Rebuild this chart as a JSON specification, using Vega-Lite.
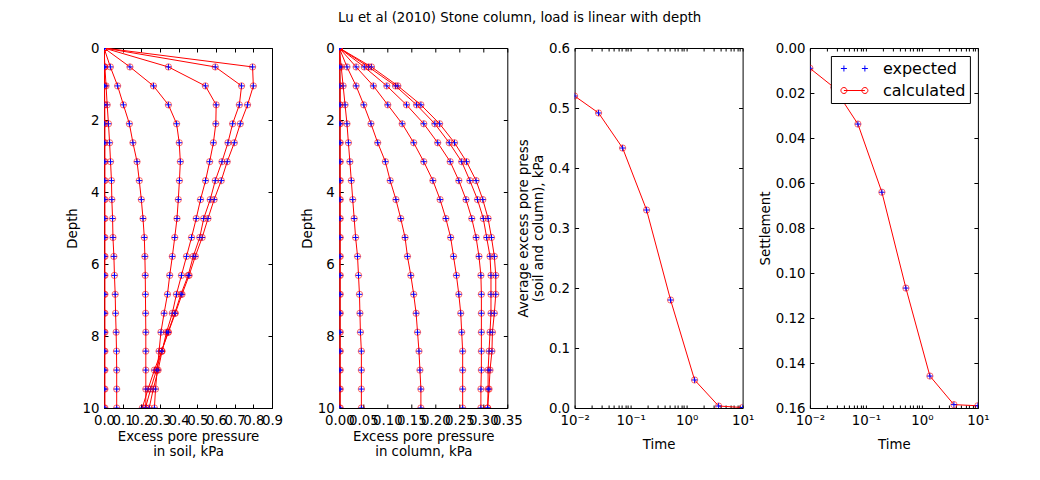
{
  "$schema": "https://vega.github.io/schema/vega-lite/v6.json",
  "autosize": {"type": "none"},
  "padding": {"left": 104, "top": 48, "right": 936, "bottom": 432},
  "background": "white",
  "title": {"text": "Lu et al (2010) Stone column, load is linear with depth", "anchor": "start", "frame": "group", "dx": 234, "offset": 16, "fontSize": 13.33, "fontWeight": "normal", "font": "DejaVu Sans", "color": "black"},
  "datasets": {
    "prof": [
      {"t":0.01,"d":0,"s":0,"c":0},{"t":0.01,"d":0.526,"s":0.796,"c":0.067},{"t":0.01,"d":1.053,"s":0.8,"c":0.122},{"t":0.01,"d":1.579,"s":0.769,"c":0.17},{"t":0.01,"d":2.105,"s":0.73,"c":0.209},{"t":0.01,"d":2.632,"s":0.698,"c":0.24},{"t":0.01,"d":3.158,"s":0.66,"c":0.265},{"t":0.01,"d":3.684,"s":0.628,"c":0.285},{"t":0.01,"d":4.211,"s":0.59,"c":0.299},{"t":0.01,"d":4.737,"s":0.557,"c":0.31},{"t":0.01,"d":5.263,"s":0.526,"c":0.317},{"t":0.01,"d":5.789,"s":0.489,"c":0.323},{"t":0.01,"d":6.316,"s":0.456,"c":0.326},{"t":0.01,"d":6.842,"s":0.418,"c":0.326},{"t":0.01,"d":7.368,"s":0.382,"c":0.323},{"t":0.01,"d":7.895,"s":0.345,"c":0.319},{"t":0.01,"d":8.421,"s":0.308,"c":0.318},{"t":0.01,"d":8.947,"s":0.27,"c":0.314},{"t":0.01,"d":9.474,"s":0.236,"c":0.312},{"t":0.01,"d":10,"s":0.205,"c":0.309},
      {"t":0.0268,"d":0,"s":0,"c":0},{"t":0.0268,"d":0.526,"s":0.596,"c":0.061},{"t":0.0268,"d":1.053,"s":0.737,"c":0.117},{"t":0.0268,"d":1.579,"s":0.725,"c":0.161},{"t":0.0268,"d":2.105,"s":0.689,"c":0.199},{"t":0.0268,"d":2.632,"s":0.664,"c":0.229},{"t":0.0268,"d":3.158,"s":0.632,"c":0.255},{"t":0.0268,"d":3.684,"s":0.596,"c":0.272},{"t":0.0268,"d":4.211,"s":0.569,"c":0.288},{"t":0.0268,"d":4.737,"s":0.534,"c":0.3},{"t":0.0268,"d":5.263,"s":0.513,"c":0.307},{"t":0.0268,"d":5.789,"s":0.478,"c":0.314},{"t":0.0268,"d":6.316,"s":0.451,"c":0.316},{"t":0.0268,"d":6.842,"s":0.412,"c":0.316},{"t":0.0268,"d":7.368,"s":0.379,"c":0.316},{"t":0.0268,"d":7.895,"s":0.343,"c":0.314},{"t":0.0268,"d":8.421,"s":0.309,"c":0.312},{"t":0.0268,"d":8.947,"s":0.281,"c":0.31},{"t":0.0268,"d":9.474,"s":0.25,"c":0.31},{"t":0.0268,"d":10,"s":0.222,"c":0.309},
      {"t":0.072,"d":0,"s":0,"c":0},{"t":0.072,"d":0.526,"s":0.345,"c":0.052},{"t":0.072,"d":1.053,"s":0.543,"c":0.099},{"t":0.072,"d":1.579,"s":0.601,"c":0.14},{"t":0.072,"d":2.105,"s":0.599,"c":0.176},{"t":0.072,"d":2.632,"s":0.586,"c":0.205},{"t":0.072,"d":3.158,"s":0.566,"c":0.231},{"t":0.072,"d":3.684,"s":0.544,"c":0.249},{"t":0.072,"d":4.211,"s":0.517,"c":0.264},{"t":0.072,"d":4.737,"s":0.494,"c":0.276},{"t":0.072,"d":5.263,"s":0.469,"c":0.285},{"t":0.072,"d":5.789,"s":0.442,"c":0.291},{"t":0.072,"d":6.316,"s":0.415,"c":0.295},{"t":0.072,"d":6.842,"s":0.388,"c":0.296},{"t":0.072,"d":7.368,"s":0.366,"c":0.296},{"t":0.072,"d":7.895,"s":0.335,"c":0.296},{"t":0.072,"d":8.421,"s":0.311,"c":0.296},{"t":0.072,"d":8.947,"s":0.29,"c":0.296},{"t":0.072,"d":9.474,"s":0.264,"c":0.295},{"t":0.072,"d":10,"s":0.242,"c":0.295},
      {"t":0.193,"d":0,"s":0,"c":0},{"t":0.193,"d":0.526,"s":0.139,"c":0.035},{"t":0.193,"d":1.053,"s":0.265,"c":0.071},{"t":0.193,"d":1.579,"s":0.345,"c":0.101},{"t":0.193,"d":2.105,"s":0.389,"c":0.131},{"t":0.193,"d":2.632,"s":0.403,"c":0.155},{"t":0.193,"d":3.158,"s":0.409,"c":0.176},{"t":0.193,"d":3.684,"s":0.404,"c":0.195},{"t":0.193,"d":4.211,"s":0.398,"c":0.21},{"t":0.193,"d":4.737,"s":0.391,"c":0.222},{"t":0.193,"d":5.263,"s":0.379,"c":0.232},{"t":0.193,"d":5.789,"s":0.366,"c":0.238},{"t":0.193,"d":6.316,"s":0.352,"c":0.244},{"t":0.193,"d":6.842,"s":0.34,"c":0.249},{"t":0.193,"d":7.368,"s":0.322,"c":0.253},{"t":0.193,"d":7.895,"s":0.305,"c":0.255},{"t":0.193,"d":8.421,"s":0.295,"c":0.257},{"t":0.193,"d":8.947,"s":0.285,"c":0.257},{"t":0.193,"d":9.474,"s":0.276,"c":0.257},{"t":0.193,"d":10,"s":0.27,"c":0.257},
      {"t":0.518,"d":0,"s":0,"c":0},{"t":0.518,"d":0.526,"s":0.034,"c":0.016},{"t":0.518,"d":1.053,"s":0.073,"c":0.035},{"t":0.518,"d":1.579,"s":0.104,"c":0.051},{"t":0.518,"d":2.105,"s":0.136,"c":0.066},{"t":0.518,"d":2.632,"s":0.155,"c":0.08},{"t":0.518,"d":3.158,"s":0.177,"c":0.096},{"t":0.518,"d":3.684,"s":0.189,"c":0.106},{"t":0.518,"d":4.211,"s":0.2,"c":0.118},{"t":0.518,"d":4.737,"s":0.209,"c":0.128},{"t":0.518,"d":5.263,"s":0.216,"c":0.137},{"t":0.518,"d":5.789,"s":0.219,"c":0.142},{"t":0.518,"d":6.316,"s":0.221,"c":0.149},{"t":0.518,"d":6.842,"s":0.222,"c":0.155},{"t":0.518,"d":7.368,"s":0.223,"c":0.16},{"t":0.518,"d":7.895,"s":0.224,"c":0.163},{"t":0.518,"d":8.421,"s":0.224,"c":0.166},{"t":0.518,"d":8.947,"s":0.224,"c":0.168},{"t":0.518,"d":9.474,"s":0.224,"c":0.17},{"t":0.518,"d":10,"s":0.224,"c":0.17},
      {"t":1.39,"d":0,"s":0,"c":0},{"t":1.39,"d":0.526,"s":0.005,"c":0.004},{"t":1.39,"d":1.053,"s":0.011,"c":0.008},{"t":1.39,"d":1.579,"s":0.017,"c":0.012},{"t":1.39,"d":2.105,"s":0.024,"c":0.016},{"t":1.39,"d":2.632,"s":0.03,"c":0.019},{"t":1.39,"d":3.158,"s":0.035,"c":0.022},{"t":1.39,"d":3.684,"s":0.04,"c":0.025},{"t":1.39,"d":4.211,"s":0.042,"c":0.028},{"t":1.39,"d":4.737,"s":0.046,"c":0.031},{"t":1.39,"d":5.263,"s":0.048,"c":0.034},{"t":1.39,"d":5.789,"s":0.053,"c":0.038},{"t":1.39,"d":6.316,"s":0.056,"c":0.04},{"t":1.39,"d":6.842,"s":0.06,"c":0.042},{"t":1.39,"d":7.368,"s":0.062,"c":0.043},{"t":1.39,"d":7.895,"s":0.065,"c":0.044},{"t":1.39,"d":8.421,"s":0.067,"c":0.046},{"t":1.39,"d":8.947,"s":0.068,"c":0.046},{"t":1.39,"d":9.474,"s":0.068,"c":0.046},{"t":1.39,"d":10,"s":0.068,"c":0.046},
      {"t":3.73,"d":0,"s":0,"c":0},{"t":3.73,"d":0.526,"s":0.002,"c":0.001},{"t":3.73,"d":1.053,"s":0.003,"c":0.002},{"t":3.73,"d":1.579,"s":0.004,"c":0.002},{"t":3.73,"d":2.105,"s":0.005,"c":0.002},{"t":3.73,"d":2.632,"s":0.005,"c":0.002},{"t":3.73,"d":3.158,"s":0.005,"c":0.002},{"t":3.73,"d":3.684,"s":0.005,"c":0.002},{"t":3.73,"d":4.211,"s":0.005,"c":0.002},{"t":3.73,"d":4.737,"s":0.005,"c":0.002},{"t":3.73,"d":5.263,"s":0.005,"c":0.002},{"t":3.73,"d":5.789,"s":0.005,"c":0.002},{"t":3.73,"d":6.316,"s":0.005,"c":0.002},{"t":3.73,"d":6.842,"s":0.005,"c":0.002},{"t":3.73,"d":7.368,"s":0.005,"c":0.002},{"t":3.73,"d":7.895,"s":0.005,"c":0.002},{"t":3.73,"d":8.421,"s":0.005,"c":0.002},{"t":3.73,"d":8.947,"s":0.005,"c":0.002},{"t":3.73,"d":9.474,"s":0.005,"c":0.002},{"t":3.73,"d":10,"s":0.005,"c":0.002},
      {"t":10,"d":0,"s":0,"c":0},{"t":10,"d":0.526,"s":0.0003,"c":0.0002},{"t":10,"d":1.053,"s":0.0003,"c":0.0002},{"t":10,"d":1.579,"s":0.0003,"c":0.0002},{"t":10,"d":2.105,"s":0.0003,"c":0.0002},{"t":10,"d":2.632,"s":0.0003,"c":0.0002},{"t":10,"d":3.158,"s":0.0003,"c":0.0002},{"t":10,"d":3.684,"s":0.0003,"c":0.0002},{"t":10,"d":4.211,"s":0.0003,"c":0.0002},{"t":10,"d":4.737,"s":0.0003,"c":0.0002},{"t":10,"d":5.263,"s":0.0003,"c":0.0002},{"t":10,"d":5.789,"s":0.0003,"c":0.0002},{"t":10,"d":6.316,"s":0.0003,"c":0.0002},{"t":10,"d":6.842,"s":0.0003,"c":0.0002},{"t":10,"d":7.368,"s":0.0003,"c":0.0002},{"t":10,"d":7.895,"s":0.0003,"c":0.0002},{"t":10,"d":8.421,"s":0.0003,"c":0.0002},{"t":10,"d":8.947,"s":0.0003,"c":0.0002},{"t":10,"d":9.474,"s":0.0003,"c":0.0002},{"t":10,"d":10,"s":0.0003,"c":0.0002}
    ],
    "ts": [
      {"time":0.01,"u":0.52,"w":0.009},
      {"time":0.0268,"u":0.4917,"w":0.0175},
      {"time":0.072,"u":0.4333,"w":0.0338},
      {"time":0.193,"u":0.33,"w":0.0641},
      {"time":0.518,"u":0.18,"w":0.1067},
      {"time":1.39,"u":0.0467,"w":0.1458},
      {"time":3.73,"u":0.0033,"w":0.1585},
      {"time":10,"u":0.0008,"w":0.159}
    ]
  },
  "bounds": "flush",
  "spacing": 67.3,
  "resolve": {"legend": {"color": "independent"}},
  "hconcat": [
    {
      "width": 168, "height": 360,
      "data": {"name": "prof"},
      "layer": [
        {
          "mark": {"type": "line", "color": "red", "strokeWidth": 1, "clip": true},
          "encoding": {
            "x": {"field": "s", "type": "quantitative", "scale": {"domain": [0, 0.9], "nice": false, "zero": false},
                  "axis": {"orient": "bottom", "values": [0,0.1,0.2,0.3,0.4,0.5,0.6,0.7,0.8,0.9], "format": ".1f", "title": ["Excess pore pressure", "in soil, kPa"]}},
            "y": {"field": "d", "type": "quantitative", "scale": {"domain": [0, 10], "nice": false, "zero": false, "reverse": true},
                  "axis": {"orient": "left", "values": [0,2,4,6,8,10], "format": "d", "title": "Depth"}},
            "detail": {"field": "t", "type": "nominal"},
            "order": {"field": "d", "type": "quantitative"}
          }
        },
        {
          "mark": {"type": "point", "shape": "M-1,0L1,0M0,-1L0,1", "filled": false, "color": "blue", "size": 36, "strokeWidth": 1, "opacity": 1, "clip": true},
          "encoding": {
            "x": {"field": "s", "type": "quantitative", "axis": {"orient": "top", "values": [0,0.1,0.2,0.3,0.4,0.5,0.6,0.7,0.8,0.9], "labels": false, "title": null}},
            "y": {"field": "d", "type": "quantitative", "axis": {"orient": "right", "values": [0,2,4,6,8,10], "labels": false, "title": null}}
          }
        },
        {
          "mark": {"type": "point", "shape": "circle", "filled": false, "color": "red", "size": 40, "strokeWidth": 1, "opacity": 1, "strokeOpacity": 0.55, "clip": true},
          "encoding": {
            "x": {"field": "s", "type": "quantitative", "axis": null},
            "y": {"field": "d", "type": "quantitative", "axis": null}
          }
        }
      ]
    },
    {
      "width": 168, "height": 360,
      "data": {"name": "prof"},
      "layer": [
        {
          "mark": {"type": "line", "color": "red", "strokeWidth": 1, "clip": true},
          "encoding": {
            "x": {"field": "c", "type": "quantitative", "scale": {"domain": [0, 0.35], "nice": false, "zero": false},
                  "axis": {"orient": "bottom", "values": [0,0.05,0.1,0.15,0.2,0.25,0.3,0.35], "format": ".2f", "title": ["Excess pore pressure", "in column, kPa"]}},
            "y": {"field": "d", "type": "quantitative", "scale": {"domain": [0, 10], "nice": false, "zero": false, "reverse": true},
                  "axis": {"orient": "left", "values": [0,2,4,6,8,10], "format": "d", "title": "Depth"}},
            "detail": {"field": "t", "type": "nominal"},
            "order": {"field": "d", "type": "quantitative"}
          }
        },
        {
          "mark": {"type": "point", "shape": "M-1,0L1,0M0,-1L0,1", "filled": false, "color": "blue", "size": 36, "strokeWidth": 1, "opacity": 1, "clip": true},
          "encoding": {
            "x": {"field": "c", "type": "quantitative", "axis": {"orient": "top", "values": [0,0.05,0.1,0.15,0.2,0.25,0.3,0.35], "labels": false, "title": null}},
            "y": {"field": "d", "type": "quantitative", "axis": {"orient": "right", "values": [0,2,4,6,8,10], "labels": false, "title": null}}
          }
        },
        {
          "mark": {"type": "point", "shape": "circle", "filled": false, "color": "red", "size": 40, "strokeWidth": 1, "opacity": 1, "strokeOpacity": 0.55, "clip": true},
          "encoding": {
            "x": {"field": "c", "type": "quantitative", "axis": null},
            "y": {"field": "d", "type": "quantitative", "axis": null}
          }
        }
      ]
    },
    {
      "width": 168, "height": 360,
      "data": {"name": "ts"},
      "layer": [
        {
          "mark": {"type": "line", "color": "red", "strokeWidth": 1, "clip": true},
          "encoding": {
            "x": {"field": "time", "type": "quantitative", "scale": {"type": "log", "domain": [0.01, 10], "nice": false},
                  "axis": {"orient": "bottom", "values": [0.01,0.02,0.03,0.04,0.05,0.06,0.07,0.08,0.09,0.1,0.2,0.3,0.4,0.5,0.6,0.7,0.8,0.9,1,2,3,4,5,6,7,8,9,10],
                           "labelExpr": "datum.value===0.01?'10⁻²':datum.value===0.1?'10⁻¹':datum.value===1?'10⁰':datum.value===10?'10¹':''",
                           "offset": -3, "tickSize": 3, "labelPadding": 5,
                           "title": "Time", "titlePadding": 11}},
            "y": {"field": "u", "type": "quantitative", "scale": {"domain": [0, 0.6], "nice": false},
                  "axis": {"orient": "left", "values": [0,0.1,0.2,0.3,0.4,0.5,0.6], "format": ".1f", "title": ["Average excess pore press", "(soil and column), kPa"]}}
          }
        },
        {
          "mark": {"type": "point", "shape": "M-1,0L1,0M0,-1L0,1", "filled": false, "color": "blue", "size": 36, "strokeWidth": 1, "opacity": 1, "clip": true},
          "encoding": {
            "x": {"field": "time", "type": "quantitative",
                  "axis": {"orient": "top", "values": [0.01,0.02,0.03,0.04,0.05,0.06,0.07,0.08,0.09,0.1,0.2,0.3,0.4,0.5,0.6,0.7,0.8,0.9,1,2,3,4,5,6,7,8,9,10], "labels": false, "title": null, "offset": -3, "tickSize": 3}},
            "y": {"field": "u", "type": "quantitative", "axis": {"orient": "right", "values": [0,0.1,0.2,0.3,0.4,0.5,0.6], "labels": false, "title": null}}
          }
        },
        {
          "mark": {"type": "point", "shape": "circle", "filled": false, "color": "red", "size": 40, "strokeWidth": 1, "opacity": 1, "strokeOpacity": 0.55, "clip": true},
          "encoding": {
            "x": {"field": "time", "type": "quantitative", "axis": null},
            "y": {"field": "u", "type": "quantitative", "axis": null}
          }
        }
      ]
    },
    {
      "width": 168, "height": 360,
      "data": {"name": "ts"},
      "layer": [
        {
          "mark": {"type": "line", "color": "red", "strokeWidth": 1, "clip": true},
          "encoding": {
            "x": {"field": "time", "type": "quantitative", "scale": {"type": "log", "domain": [0.01, 10], "nice": false},
                  "axis": {"orient": "bottom", "values": [0.01,0.02,0.03,0.04,0.05,0.06,0.07,0.08,0.09,0.1,0.2,0.3,0.4,0.5,0.6,0.7,0.8,0.9,1,2,3,4,5,6,7,8,9,10],
                           "labelExpr": "datum.value===0.01?'10⁻²':datum.value===0.1?'10⁻¹':datum.value===1?'10⁰':datum.value===10?'10¹':''",
                           "offset": -3, "tickSize": 3, "labelPadding": 5,
                           "title": "Time", "titlePadding": 11}},
            "y": {"field": "w", "type": "quantitative", "scale": {"domain": [0, 0.16], "nice": false, "reverse": true},
                  "axis": {"orient": "left", "values": [0,0.02,0.04,0.06,0.08,0.1,0.12,0.14,0.16], "format": ".2f", "title": "Settlement"}}
          }
        },
        {
          "mark": {"type": "point", "shape": "M-1,0L1,0M0,-1L0,1", "filled": false, "size": 36, "strokeWidth": 1, "opacity": 1, "clip": true},
          "encoding": {
            "x": {"field": "time", "type": "quantitative",
                  "axis": {"orient": "top", "values": [0.01,0.02,0.03,0.04,0.05,0.06,0.07,0.08,0.09,0.1,0.2,0.3,0.4,0.5,0.6,0.7,0.8,0.9,1,2,3,4,5,6,7,8,9,10], "labels": false, "title": null, "offset": -3, "tickSize": 3}},
            "y": {"field": "w", "type": "quantitative", "axis": {"orient": "right", "values": [0,0.02,0.04,0.06,0.08,0.1,0.12,0.14,0.16], "labels": false, "title": null}},
            "color": {"datum": "expected", "type": "nominal",
                      "scale": {"domain": ["expected", "calculated"], "range": ["blue", "red"]},
                      "legend": {"title": null, "orient": "top-right", "offset": 8, "padding": 4, "fillColor": "white", "strokeColor": "black", "cornerRadius": 0,
                                 "labelFont": "DejaVu Sans", "labelFontSize": 16, "labelColor": "black", "symbolSize": 256, "symbolOffset": 11, "labelOffset": 20, "rowPadding": 5, "symbolStrokeWidth": 1,
                                 "symbolType": {"expr": "datum.value === 'expected' ? 'M-1.685,0L-0.935,0M-1.31,-0.375L-1.31,0.375M0.935,0L1.685,0M1.31,-0.375L1.31,0.375' : 'M-1.31,0L1.31,0M-0.935,0A0.375,0.375,0,1,1,-1.685,0A0.375,0.375,0,1,1,-0.935,0M1.685,0A0.375,0.375,0,1,1,0.935,0A0.375,0.375,0,1,1,1.685,0'"}}}
          }
        },
        {
          "mark": {"type": "point", "shape": "circle", "filled": false, "size": 40, "strokeWidth": 1, "opacity": 1, "strokeOpacity": 0.55, "clip": true},
          "encoding": {
            "x": {"field": "time", "type": "quantitative", "axis": null},
            "y": {"field": "w", "type": "quantitative", "axis": null},
            "color": {"datum": "calculated", "type": "nominal",
                      "legend": {"title": null, "orient": "top-right", "offset": 8, "padding": 4, "fillColor": "white", "strokeColor": "black", "cornerRadius": 0,
                                 "labelFont": "DejaVu Sans", "labelFontSize": 16, "labelColor": "black", "symbolSize": 256, "symbolOffset": 11, "labelOffset": 20, "rowPadding": 5, "symbolStrokeWidth": 1,
                                 "symbolType": {"expr": "datum.value === 'expected' ? 'M-1.685,0L-0.935,0M-1.31,-0.375L-1.31,0.375M0.935,0L1.685,0M1.31,-0.375L1.31,0.375' : 'M-1.31,0L1.31,0M-0.935,0A0.375,0.375,0,1,1,-1.685,0A0.375,0.375,0,1,1,-0.935,0M1.685,0A0.375,0.375,0,1,1,0.935,0A0.375,0.375,0,1,1,1.685,0'"}}}
          }
        }
      ]
    }
  ],
  "config": {
    "font": "DejaVu Sans",
    "view": {"stroke": "black", "strokeWidth": 1},
    "axis": {"domain": false, "grid": false, "tickColor": "black", "offset": -4, "tickSize": 4, "tickWidth": 1,
             "labelColor": "black", "labelFont": "DejaVu Sans", "labelFontSize": 13.33, "labelPadding": 5, "labelFlush": false, "labelOverlap": false,
             "titleFont": "DejaVu Sans", "titleFontSize": 13.33, "titleFontWeight": "normal", "titleColor": "black", "titlePadding": 3, "titleLineHeight": 15}
  }
}
